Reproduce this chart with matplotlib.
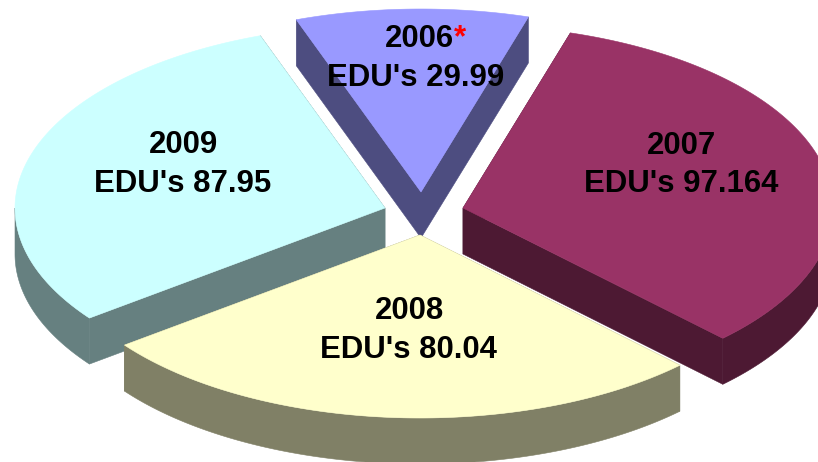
import numpy as np
import matplotlib
matplotlib.use('Agg')
import matplotlib.pyplot as plt
from matplotlib.patches import Polygon

years = ['2006', '2007', '2008', '2009']
values = [29.99, 97.164, 80.04, 87.95]
value_labels = ['29.99', '97.164', '80.04', '87.95']

top_colors = ['#9999ff', '#993366', '#ffffcc', '#ccffff']
side_colors = ['#4d4d80', '#4d1933', '#808066', '#668080']

# tip of each exploded slice, in pixels
tips = [(421, 192), (463, 208), (420, 235), (385, 208)]
year_pos = [(419, 39), (681, 146), (409, 311), (183, 145)]
edu_pos = [(416, 78), (681, 184), (408, 350), (183, 184)]

rx = 370
ry = 183
depth = 46
start = -19.7
fontsize = 22.4

fig = plt.figure(figsize=(8.18, 4.62), dpi=100)
ax = fig.add_axes([0, 0, 1, 1])
ax.set_xlim(0, 818)
ax.set_ylim(462, 0)
ax.axis('off')


def rim(tip, a):
    # angle a is clockwise from the top of the pie
    a = np.radians(a)
    return np.column_stack((tip[0] + rx * np.sin(a), tip[1] - ry * np.cos(a)))


def face(pts, color, z):
    ax.add_patch(Polygon(pts, closed=True, facecolor=color, edgecolor=color, linewidth=0.4, zorder=z))


angles = np.cumsum([0] + values) / sum(values) * 360 + start
draw_order = [0, 1, 3, 2]

for z, i in enumerate(draw_order):
    a0, a1 = angles[i], angles[i + 1]
    tip = np.array(tips[i], dtype=float)
    arc = rim(tip, np.linspace(a0, a1, 200))
    down = np.array([0, depth])

    # cut faces
    for end in (arc[0], arc[-1]):
        face([tip, end, end + down, tip + down], side_colors[i], z * 2 + 1)

    # outer wall, only the part looking at the viewer
    lo, hi = max(a0, 90), min(a1, 270)
    if hi > lo:
        wall = rim(tip, np.linspace(lo, hi, 200))
        face(np.vstack((wall, (wall + down)[::-1])), side_colors[i], z * 2 + 1)

    face(np.vstack((tip, arc)), top_colors[i], z * 2 + 2)

for i in range(len(years)):
    ax.text(year_pos[i][0], year_pos[i][1], years[i], family='Liberation Sans', fontweight='bold',
            fontsize=fontsize, ha='center', va='center', color='black', zorder=20)
    ax.text(edu_pos[i][0], edu_pos[i][1], "EDU's " + value_labels[i], family='Liberation Sans', fontweight='bold',
            fontsize=fontsize, ha='center', va='center', color='black', zorder=20)

ax.text(460, 38, '*', family='Liberation Sans', fontweight='bold', fontsize=fontsize,
        ha='center', va='center', color='red', zorder=20)

plt.savefig('out.png', dpi=100)
plt.close()
